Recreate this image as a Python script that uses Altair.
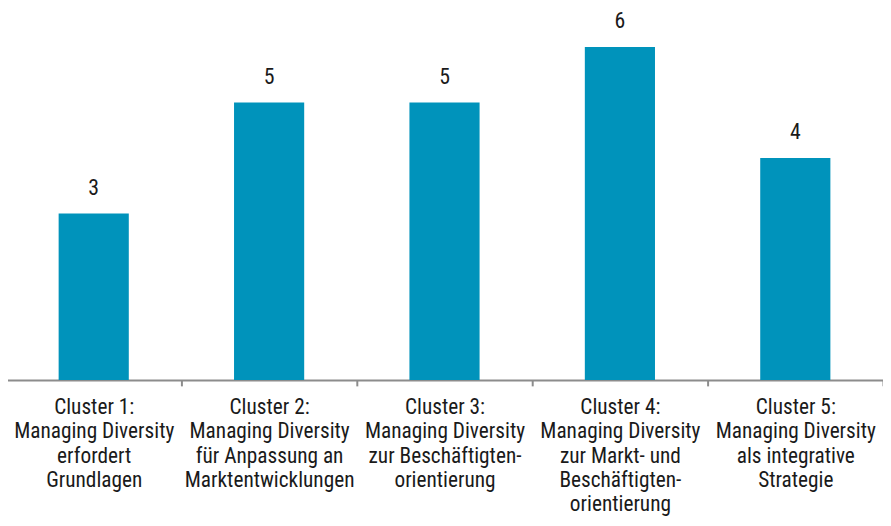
import altair as alt
import pandas as pd

categories = [
    "Cluster 1:|Managing Diversity|erfordert|Grundlagen",
    "Cluster 2:|Managing Diversity|für Anpassung an|Marktentwicklungen",
    "Cluster 3:|Managing Diversity|zur Beschäftigten-|orientierung",
    "Cluster 4:|Managing Diversity|zur Markt- und|Beschäftigten-|orientierung",
    "Cluster 5:|Managing Diversity|als integrative|Strategie",
]
values = [3, 5, 5, 6, 4]

df = pd.DataFrame({"cat": categories, "val": values})

FONT = "Liberation Sans Narrow, Noto Sans Condensed, Roboto Condensed, Open Sans Condensed, DejaVu Sans Condensed, Arial Narrow, Roboto, sans-serif"

x = alt.X(
    "cat:N",
    sort=categories,
    title=None,
    scale=alt.Scale(paddingInner=0, paddingOuter=0),
    axis=alt.Axis(
        labelAngle=0,
        labelExpr="split(datum.label, '|')",
        labelFont=FONT,
        labelFontSize=21.5,
        labelColor="#1a1a1a",
        labelLineHeight=24.5,
        labelPadding=11,
        labelBaseline="top",
        tickBand="extent",
        domainColor="#8c8c8c",
        domainWidth=2,
        tickColor="#8c8c8c",
        tickWidth=2,
        tickSize=6,
        labelLimit=300,
    ),
)
y = alt.Y(
    "val:Q",
    scale=alt.Scale(domain=[0, 6.66], nice=False),
    axis=None,
)

bars = alt.Chart(df).mark_bar(
    color="#0093bb", width=alt.RelativeBandSize(0.4)
).encode(x=x, y=y)

labels = alt.Chart(df).mark_text(
    dy=-19, font=FONT, fontSize=22, color="#1a1a1a", baseline="alphabetic"
).encode(x=x, y=y, text="val:Q")

chart = (
    alt.layer(bars, labels)
    .properties(
        width=885,
        height=373,
        autosize="none",
        padding={"left": -2, "top": 0, "right": 0, "bottom": 137},
    )
    .configure_view(stroke=None)
)

chart.save("out.html", embed_options={"renderer": "svg", "actions": False})
